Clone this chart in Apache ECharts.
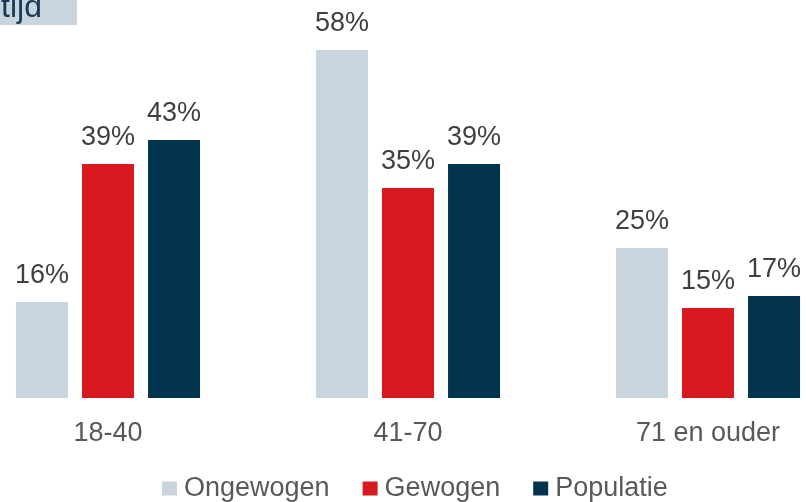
<!DOCTYPE html>
<html>
<head>
<meta charset="utf-8">
<script src="https://cdn.jsdelivr.net/npm/echarts@6/dist/echarts.min.js"></script>
<style>
  html, body { margin: 0; padding: 0; background: #fff; overflow: hidden; }
  #wrap { position: relative; width: 806px; height: 502px; overflow: hidden; }
  /* plot runs past both window edges, so the chart box is wider than the page */
  #chart { position: absolute; left: -42px; top: 0; width: 900px; height: 502px; }
</style>
</head>
<body>
<div id="wrap"><div id="chart"></div></div>
<script>
// age groups and shares (%) per series
const categories = ['18-40', '41-70', '71 en ouder'];
const ongewogen = [16, 58, 25];
const gewogen = [39, 35, 15];
const populatie = [43, 39, 17];
const seriesNames = ['Ongewogen', 'Gewogen', 'Populatie'];
const colors = ['#c9d5dc', '#d71920', '#02344e'];

const font = "'Liberation Sans', Arial, sans-serif";
const OFF = 42; // chart div is shifted left by this much

const chart = echarts.init(document.getElementById('chart'), null, { renderer: 'canvas' });

const mkSeries = (name, data, color) => ({
  name,
  type: 'bar',
  data,
  barWidth: 52,
  barGap: '27%',
  itemStyle: { color },
  label: {
    show: true,
    position: 'top',
    distance: 13,
    formatter: '{c}%',
    color: '#404040',
    fontFamily: font,
    fontSize: 27
  }
});

chart.setOption({
  backgroundColor: '#fff',
  animation: false,
  grid: { left: 0, right: 0, top: 38, bottom: 104, containLabel: false },
  xAxis: {
    type: 'category',
    data: categories,
    axisLine: { show: false },
    axisTick: { show: false },
    axisLabel: { color: '#595959', fontFamily: font, fontSize: 27, margin: 22 }
  },
  yAxis: { type: 'value', min: 0, max: 60, show: false },
  legend: {
    data: seriesNames,
    left: 157 + OFF,
    top: 470,
    icon: 'rect',
    itemWidth: 15,
    itemHeight: 14,
    itemGap: 33,
    textStyle: { color: '#595959', fontFamily: font, fontSize: 27, padding: [0, 0, 0, 2] }
  },
  graphic: [
    { type: 'rect', x: OFF, y: 0, shape: { x: 0, y: 0, width: 77, height: 25 }, style: { fill: '#c9d5dc' }, z: 10 },
    { type: 'text', x: OFF + 42, y: 24, z: 11,
      style: { text: 'tijd', fill: '#1b3954', font: '32px ' + font, textAlign: 'right', textVerticalAlign: 'bottom' } }
  ],
  series: [
    mkSeries(seriesNames[0], ongewogen, colors[0]),
    mkSeries(seriesNames[1], gewogen, colors[1]),
    mkSeries(seriesNames[2], populatie, colors[2])
  ]
});
</script>
</body>
</html>
